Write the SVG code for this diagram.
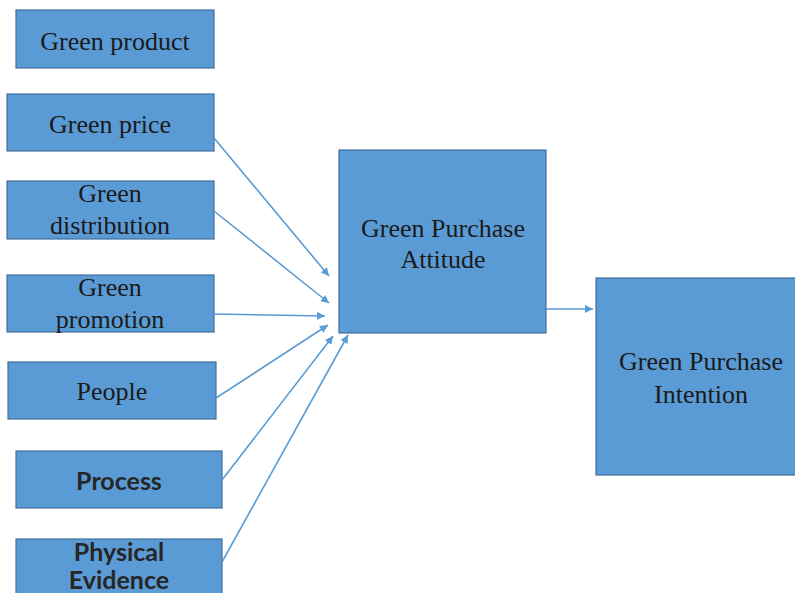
<svg xmlns="http://www.w3.org/2000/svg" width="795" height="593" viewBox="0 0 795 593">
<defs>
<style>
.box{fill:#5b9bd5;stroke:#41719c;stroke-width:1.2}
.t{font-family:"Liberation Serif","Times New Roman",serif;font-size:26px;fill:#1a1a1a;text-anchor:middle}
.b{font-family:Lato,"Liberation Sans",sans-serif;font-weight:bold;font-size:25px;fill:#262626;text-anchor:middle}
.c{stroke:#5b9bd5;stroke-width:1.6;fill:none;marker-end:url(#ah)}
</style>
<marker id="ah" viewBox="0 0 10 10" refX="10" refY="5" markerWidth="10" markerHeight="8" markerUnits="userSpaceOnUse" orient="auto">
<path d="M0,0 L10,5 L0,10 z" fill="#5b9bd5"/>
</marker>
</defs>
<rect width="795" height="593" fill="#fff"/>
<g id="n-product"><rect class="box" x="16" y="10" width="198" height="58"/><text class="t" x="115" y="50">Green product</text></g>
<g id="n-price"><rect class="box" x="7" y="94" width="207" height="57"/><text class="t" x="110" y="133">Green price</text></g>
<g id="n-distribution"><rect class="box" x="7" y="181" width="207" height="58"/><text class="t" x="110" y="202">Green</text><text class="t" x="110" y="234">distribution</text></g>
<g id="n-promotion"><rect class="box" x="7" y="275" width="207" height="57"/><text class="t" x="110" y="296">Green</text><text class="t" x="110" y="328">promotion</text></g>
<g id="n-people"><rect class="box" x="8" y="362" width="208" height="57"/><text class="t" x="112" y="400">People</text></g>
<g id="n-process"><rect class="box" x="16" y="451" width="206" height="57"/><text class="b" x="119" y="490">Process</text></g>
<g id="n-physical"><rect class="box" x="16" y="539" width="206" height="70"/><text class="b" x="119" y="561">Physical</text><text class="b" x="119" y="589">Evidence</text></g>
<g id="n-attitude"><rect class="box" x="339" y="150" width="207" height="183"/><text class="t" x="443" y="237">Green Purchase</text><text class="t" x="443" y="268">Attitude</text></g>
<g id="n-intention"><rect class="box" x="596" y="278" width="205" height="197"/><text class="t" x="701" y="370">Green Purchase</text><text class="t" x="701" y="403">Intention</text></g>
<g id="connectors">
<line class="c" x1="214" y1="138" x2="329" y2="276"/>
<line class="c" x1="214" y1="211" x2="329" y2="303"/>
<line class="c" x1="214" y1="314" x2="325" y2="316"/>
<line class="c" x1="216" y1="398" x2="328" y2="325"/>
<line class="c" x1="222" y1="480" x2="333" y2="336"/>
<line class="c" x1="222" y1="562" x2="348" y2="335"/>
<line class="c" x1="546" y1="309" x2="593" y2="309"/>
</g>
</svg>
